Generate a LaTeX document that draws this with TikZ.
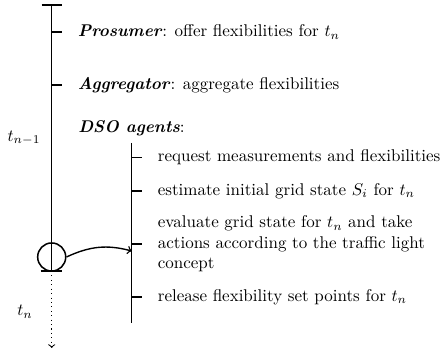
\documentclass[tikz,border=0pt]{standalone}
\usepackage{tikz}
\usetikzlibrary{arrows}
\usetikzlibrary{calc}
\usetikzlibrary{positioning}

\begin{document}
\begin{tikzpicture}
[
	x = 0.588pt, y = -0.588pt,
	node distance = 5.8pt,
	line/.style = {line width = 0.9pt},
	stub/.style = {line width = 0.9pt},
	entry/.style = {inner sep = 3.33pt},
	stamp/.style = {inner sep = 1pt},
	now/.style = {circle, draw, line width = 0.9pt, minimum size = 16.5pt, inner sep = 0pt},
]
	\useasboundingbox (0,0) rectangle (446,352);

	% time line
	\coordinate (top) at (51.7,5);
	\coordinate (bot) at (51.7,271);
	\coordinate (tail) at (51.7,348);
	\coordinate (pro) at (51.7,32);
	\coordinate (agg) at (51.7,85);
	\node (now) [now] at (51.7,257) {};

	\draw [line] (top) -- (bot);
	\draw [line] ($(top)+(-10,0)$) -- ($(top)+(10.3,0)$);
	\draw [line] ($(bot)+(-11,0)$) -- ($(bot)+(10.3,0)$);
	\draw [semithick, dotted, ->] (bot) -- (tail);
	\draw [stub] (pro) -- ++(10.3,0) coordinate (pro-e);
	\draw [stub] (agg) -- ++(10.3,0) coordinate (agg-e);

	\node (tprev) [stamp] at (24,138) {$t_{n-1}$};
	\node (tnow) [stamp] at (25,312) {$t_n$};

	% roles
	\node (prosumer) [entry, right = of pro-e] {\textbf{\textit{Prosumer}}: offer flexibilities for $t_n$};
	\node (aggregator) [entry, right = of agg-e] {\textbf{\textit{Aggregator}}: aggregate flexibilities};
	\node (dso) [entry, anchor = west] at (72.3,128) {\textbf{\textit{DSO agents}}:};

	% DSO steps
	\coordinate (dtop) at (131.7,143);
	\coordinate (dbot) at (131.7,323);
	\coordinate (s1) at (131.7,157.5);
	\coordinate (s2) at (131.7,191);
	\coordinate (s3) at (131.7,244);
	\coordinate (s4) at (131.7,297);
	\coordinate (hit) at (131.7,251);

	\draw [line] (dtop) -- (dbot);
	\draw [stub] (s1) -- ++(10.3,0) coordinate (s1-e);
	\draw [stub] (s2) -- ++(10.3,0) coordinate (s2-e);
	\draw [stub] (s3) -- ++(10.3,0) coordinate (s3-e);
	\draw [stub] (s4) -- ++(10.3,0) coordinate (s4-e);

	\node (request) [entry, right = of s1-e] {request measurements and flexibilities};
	\node (estimate) [entry, right = of s2-e] {estimate initial grid state $S_i$ for $t_n$};
	\node (evaluate) [entry, align = left, right = of s3-e] {evaluate grid state for $t_n$ and take\\actions according to the traffic light\\concept};
	\node (release) [entry, right = of s4-e] {release flexibility set points for $t_n$};

	\draw [thick, ->] (now.east) to [out = 25, in = 165] (hit);

\end{tikzpicture}
\end{document}
